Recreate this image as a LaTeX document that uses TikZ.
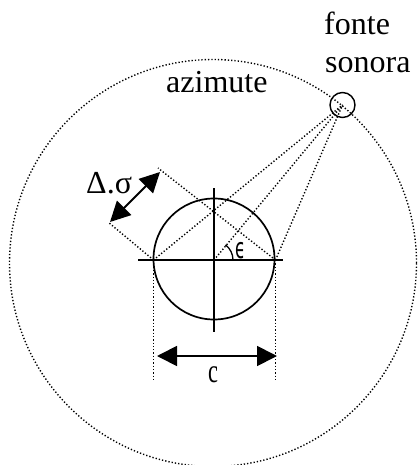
\documentclass[tikz,border=0pt]{standalone}
\usepackage{fontspec}
\setmainfont{Liberation Serif}
\newfontfamily\symfont{DejaVu Sans}
\usetikzlibrary{arrows.meta}
\begin{document}
\begin{tikzpicture}[x=1pt,y=-1pt,
  dots/.style={line width=1.4pt, dash pattern=on 1.3pt off 2.0pt},
  solidline/.style={line width=1.7pt},
  lbl/.style={inner sep=0pt, font=\fontsize{32}{38}\selectfont},
  bigarrow/.style={line width=1.8pt, {Triangle[length=20pt,width=20pt]}-{Triangle[length=20pt,width=20pt]}}]
\useasboundingbox (0,0) rectangle (417,465);
% outer azimuth circle
\node[draw, dots, circle, minimum size=407pt, inner sep=0pt] (outer) at (213,263) {};
% head
\node[draw, solidline, circle, minimum size=121pt, inner sep=0pt] (head) at (214,259) {};
% source
\node[draw, line width=1.4pt, circle, minimum size=25pt, inner sep=0pt] (src) at (342.5,105) {};
% key points
\coordinate (C) at (214,260);
\coordinate (L) at (153.5,260);
\coordinate (R) at (275.5,260);
\coordinate (hl) at (138,260);
\coordinate (hr) at (283,260);
\coordinate (vt) at (214,188);
\coordinate (vb) at (214,332);
\coordinate (A1) at (158,168);
\coordinate (B1) at (108,222);
\coordinate (Lb) at (153.5,381);
\coordinate (Rb) at (275.5,381);
\coordinate (cl) at (157,356);
\coordinate (cr) at (277,356);
\coordinate (dl) at (110,222);
\coordinate (dr) at (160,172);
% axes
\draw[line width=1.5pt] (hl) -- (hr);
\draw[line width=1.5pt] (vt) -- (vb);
% rays to source
\draw[dots] (L) -- (src.center);
\draw[dots] (C) -- (src.center);
\draw[dots] (R) -- (src.center);
% wavefront lines
\draw[dots] (R) -- (A1);
\draw[dots] (L) -- (B1);
% verticals
\draw[dots] (L) -- (Lb);
\draw[dots] (R) -- (Rb);
% arrows
\draw[bigarrow] (cl) -- (cr);
\draw[bigarrow] (dl) -- (dr);
% angle
\draw[line width=1.3pt] (C) ++(0:19) arc[start angle=0, end angle=-53, radius=19];
% labels
\node[lbl, anchor=base west] (fonte) at (324,35) {fonte};
\node[lbl, anchor=base west] (sonora) at (325,73) {sonora};
\node[lbl, anchor=base west] (azim) at (166,93) {azimute};
\node[lbl, anchor=base west] (ds) at (86,193) {Δ.σ};
\node[lbl, anchor=base] (clbl) at (213,382) {\scalebox{0.7}[1.05]{c}};
\node[inner sep=0pt, anchor=base west] (eps) at (235,258) {\symfont\fontsize{24}{24}\selectfont\scalebox{0.7}[1.2]{ϵ}};
\end{tikzpicture}
\end{document}
